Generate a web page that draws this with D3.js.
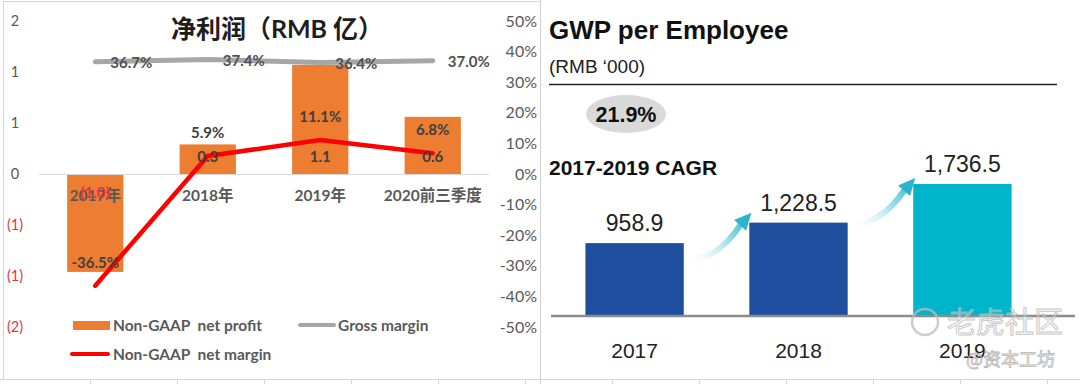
<!DOCTYPE html>
<html><head><meta charset="utf-8">
<script src="https://cdn.jsdelivr.net/npm/d3@7"></script>
<style>
html,body{margin:0;padding:0;background:#fff;}
svg{display:block;}
text{white-space:pre;}
</style></head>
<body>
<svg id="c" width="1080" height="384"></svg>
<script>
// ---------- data ----------
const categories = ["2017年", "2018年", "2019年", "2020前三季度"];
const netProfit = [-0.96, 0.29, 1.07, 0.56];
const grossMargin = [0.367, 0.374, 0.364, 0.370];
const netMargin = [-0.365, 0.059, 0.111, 0.068];
const leftTicks = [-1.5, -1, -0.5, 0, 0.5, 1, 1.5];
const rightTicks = [-0.5, -0.4, -0.3, -0.2, -0.1, 0, 0.1, 0.2, 0.3, 0.4, 0.5];
const leftTitle = "净利润（RMB 亿）";
const legendLabels = ["Non-GAAP  net profit", "Gross margin", "Non-GAAP  net margin"];

const gwpYears = ["2017", "2018", "2019"];
const gwpValues = [958.9, 1228.5, 1736.5];
const gwpCagr = "21.9%";
const gwpTitle = "GWP per Employee";
const gwpUnit = "(RMB \u2018000)";
const gwpCagrLabel = "2017-2019 CAGR";

// ---------- setup ----------
const svg = d3.select("#c");
const LF = "Lato, 'Noto Sans CJK SC', sans-serif";
const AF = "'Liberation Sans', Arial, sans-serif";
const gray = "#595959";
const redTxt = "#e8323c";

// frame / cell grid
svg.append("rect").attr("x", 3.5).attr("y", 1.5).attr("width", 537).attr("height", 378)
  .attr("fill", "#fff").attr("stroke", "#d4d4d4");
svg.append("line").attr("x1", 0).attr("x2", 1080).attr("y1", 379.5).attr("y2", 379.5).attr("stroke", "#d4d4d4");
svg.append("line").attr("x1", 540.5).attr("x2", 540.5).attr("y1", 0).attr("y2", 384).attr("stroke", "#cfcfcf");
d3.range(90, 1080, 87).forEach(x => {
  svg.append("line").attr("x1", x + 0.5).attr("x2", x + 0.5).attr("y1", 380).attr("y2", 384).attr("stroke", "#d4d4d4");
});

// ---------- left chart ----------
const x = d3.scaleBand().domain(categories).range([39, 489]).paddingInner(0.5).paddingOuter(0.25);
const yL = d3.scaleLinear().domain([-1.5, 1.5]).range([327, 21]);
const yR = d3.scaleLinear().domain([-0.5, 0.5]).range([327, 21]);
const cx = c => x(c) + x.bandwidth() / 2;

// left axis
const fmtL = v => { const r = Math.round(Math.abs(v)); return v < 0 ? `(${r})` : `${r}`; };
const gL = svg.append("g").attr("transform", "translate(22,0)")
  .call(d3.axisLeft(yL).tickValues(leftTicks).tickFormat(fmtL).tickSize(0).tickPadding(0));
gL.select(".domain").remove();
gL.selectAll("text").attr("x", -7).attr("text-anchor", "middle")
  .attr("font-family", LF).attr("font-size", 14.5)
  .attr("fill", d => d < 0 ? redTxt : gray);

// right axis
const gR = svg.append("g").attr("transform", "translate(537,0)")
  .call(d3.axisLeft(yR).tickValues(rightTicks).tickFormat(d3.format(".0%")).tickSize(0).tickPadding(0));
gR.select(".domain").remove();
gR.selectAll("text").attr("font-family", LF).attr("font-size", 16).attr("fill", gray)
  .text(d => d3.format(".0%")(d).replace("−", "-"));

// bars
svg.append("g").selectAll("rect").data(netProfit).join("rect")
  .attr("x", (d, i) => x(categories[i]))
  .attr("width", x.bandwidth())
  .attr("y", d => yL(Math.max(0, d)))
  .attr("height", d => Math.abs(yL(d) - yL(0)))
  .attr("fill", "#ed7d31");

// category axis
const gX = svg.append("g").attr("transform", `translate(0,${yL(0)})`)
  .call(d3.axisBottom(x).tickSize(0).tickPadding(0));
gX.select(".domain").attr("d", `M${x.range()[0]},0.5H${x.range()[1]}`).attr("stroke", "#d9d9d9").attr("stroke-width", 1);
gX.selectAll("text").attr("y", 22).attr("dy", "0.35em")
  .attr("font-family", LF).attr("font-size", 15.5).attr("font-weight", 700).attr("fill", gray);

// gross margin line
const lineR = vals => d3.line().x((d, i) => cx(categories[i])).y(d => yR(d))(vals);
svg.append("path").attr("d", lineR(grossMargin)).attr("fill", "none")
  .attr("stroke", "#a6a6a6").attr("stroke-width", 5).attr("stroke-linecap", "round").attr("stroke-linejoin", "round");
// net margin line
svg.append("path").attr("d", lineR(netMargin)).attr("fill", "none")
  .attr("stroke", "#ff0000").attr("stroke-width", 4.5).attr("stroke-linecap", "round").attr("stroke-linejoin", "round");

// labels
const lbl = svg.append("g").attr("font-family", LF).attr("font-size", 15).attr("font-weight", 700);
const fmt1 = d3.format(".1f");
lbl.selectAll("text.bp").data(netProfit).join("text").attr("class", "bp")
  .attr("x", (d, i) => cx(categories[i]))
  .attr("y", d => d >= 0 ? yL(0) - 17 : yL(0) + 19)
  .attr("dy", "0.35em").attr("text-anchor", "middle")
  .attr("fill", d => d < 0 ? redTxt : "#404040")
  .text(d => d < 0 ? `(${fmt1(-d)})` : fmt1(d));
lbl.selectAll("text.gm").data(grossMargin).join("text").attr("class", "gm")
  .attr("x", (d, i) => cx(categories[i]) + 15)
  .attr("y", d => yR(d) + 1).attr("dy", "0.35em")
  .attr("fill", "#505050")
  .text(d => d3.format(".1%")(d));
lbl.selectAll("text.nm").data(netMargin).join("text").attr("class", "nm")
  .attr("x", (d, i) => cx(categories[i]))
  .attr("y", d => yR(d) - 23).attr("dy", "0.35em").attr("text-anchor", "middle")
  .attr("fill", "#404040")
  .text(d => d3.format(".1%")(d).replace("−", "-"));

// title
svg.append("text").attr("x", 277).attr("y", 29).attr("dy", "0.35em").attr("text-anchor", "middle")
  .attr("font-family", LF).attr("font-size", 25).attr("font-weight", 700).attr("fill", "#1e1e1e")
  .text(leftTitle);

// legend
const lg = svg.append("g").attr("font-family", LF).attr("font-size", 15.5).attr("font-weight", 700).attr("fill", gray);
lg.append("rect").attr("x", 73).attr("y", 321).attr("width", 37).attr("height", 9).attr("fill", "#ed7d31");
lg.append("text").attr("x", 113).attr("y", 326).attr("dy", "0.35em").text(legendLabels[0]);
lg.append("line").attr("x1", 300).attr("x2", 334).attr("y1", 325).attr("y2", 325)
  .attr("stroke", "#a6a6a6").attr("stroke-width", 4).attr("stroke-linecap", "round");
lg.append("text").attr("x", 338).attr("y", 326).attr("dy", "0.35em").text(legendLabels[1]);
lg.append("line").attr("x1", 72).attr("x2", 108).attr("y1", 354).attr("y2", 354)
  .attr("stroke", "#ff0000").attr("stroke-width", 4).attr("stroke-linecap", "round");
lg.append("text").attr("x", 113).attr("y", 355).attr("dy", "0.35em").text(legendLabels[2]);

// ---------- right panel ----------
const rp = svg.append("g");
rp.append("rect").attr("x", 541).attr("y", 0).attr("width", 539).attr("height", 379).attr("fill", "#fff");
rp.append("text").attr("x", 549).attr("y", 39).attr("font-family", AF).attr("font-size", 26)
  .attr("font-weight", 700).attr("fill", "#111").text(gwpTitle);
rp.append("text").attr("x", 549).attr("y", 73).attr("font-family", AF).attr("font-size", 19)
  .attr("fill", "#222").text(gwpUnit);
rp.append("line").attr("x1", 549).attr("x2", 1057).attr("y1", 84.5).attr("y2", 84.5)
  .attr("stroke", "#222").attr("stroke-width", 1.5);
rp.append("ellipse").attr("cx", 626).attr("cy", 114).attr("rx", 40).attr("ry", 19).attr("fill", "#d9d9d9");
rp.append("text").attr("x", 626).attr("y", 114).attr("dy", "0.36em").attr("text-anchor", "middle")
  .attr("font-family", AF).attr("font-size", 21.5).attr("font-weight", 700).attr("fill", "#111").text(gwpCagr);
rp.append("text").attr("x", 549).attr("y", 175).attr("font-family", AF).attr("font-size", 21)
  .attr("font-weight", 700).attr("fill", "#111").text(gwpCagrLabel);

const xg = d3.scaleBand().domain(gwpYears).range([551, 1046]).paddingInner(0.4).paddingOuter(0.21);
const yg = d3.scaleLinear().domain([0, 2000]).range([316, 164]);
const gwpColors = ["#1f4e9e", "#1f4e9e", "#00b5cb"];

rp.selectAll("rect.gb").data(gwpValues).join("rect").attr("class", "gb")
  .attr("x", (d, i) => xg(gwpYears[i])).attr("width", xg.bandwidth())
  .attr("y", d => yg(d)).attr("height", d => yg(0) - yg(d))
  .attr("fill", (d, i) => gwpColors[i]);
rp.append("line").attr("x1", 551).attr("x2", 1075).attr("y1", yg(0)).attr("y2", yg(0))
  .attr("stroke", "#8c8c8c").attr("stroke-width", 2.5);

rp.selectAll("text.gv").data(gwpValues).join("text").attr("class", "gv")
  .attr("x", (d, i) => xg(gwpYears[i]) + xg.bandwidth() / 2)
  .attr("y", d => yg(d) - 12).attr("text-anchor", "middle")
  .attr("font-family", AF).attr("font-size", 23).attr("fill", "#222")
  .text(d => d3.format(",.1f")(d));
rp.selectAll("text.gy").data(gwpYears).join("text").attr("class", "gy")
  .attr("x", d => xg(d) + xg.bandwidth() / 2).attr("y", 358).attr("text-anchor", "middle")
  .attr("font-family", AF).attr("font-size", 21).attr("fill", "#222").text(d => d);

// arrows
const defs = svg.append("defs");
for (let i = 0; i < gwpValues.length - 1; i++) {
  const sx = xg(gwpYears[i]) + xg.bandwidth() + 3, sy = yg(gwpValues[i]) + (i === 0 ? 16 : 1);
  const tx = xg(gwpYears[i + 1]) + 2, ty = yg(gwpValues[i + 1]) - (i === 0 ? 10 : 6);
  const gid = "ag" + i;
  const grad = defs.append("linearGradient").attr("id", gid).attr("gradientUnits", "userSpaceOnUse")
    .attr("x1", sx).attr("y1", sy).attr("x2", tx).attr("y2", ty);
  grad.append("stop").attr("offset", 0).attr("stop-color", "#ffffff").attr("stop-opacity", 0.2);
  grad.append("stop").attr("offset", 0.45).attr("stop-color", "#bfe9f2");
  grad.append("stop").attr("offset", 1).attr("stop-color", "#1fb2cc");
  const ux = 0.66, uy = -0.75;
  const hl = 17, hw = 8;
  const bx = tx - hl * ux, by = ty - hl * uy;
  const px = -uy, py = ux;
  const cxp = sx + (bx - sx) * 0.55, cyp = sy + 2;
  rp.append("path")
    .attr("d", `M${sx},${sy} Q${cxp},${cyp} ${bx},${by}`)
    .attr("fill", "none").attr("stroke", `url(#${gid})`).attr("stroke-width", 6).attr("stroke-linecap", "round");
  rp.append("path")
    .attr("d", `M${tx},${ty} L${bx + hw * px},${by + hw * py} L${bx - hw * px},${by - hw * py} Z`)
    .attr("fill", "#2ab5cf");
}

// watermark
const wm = svg.append("g").attr("opacity", 0.75);
wm.append("circle").attr("cx", 925).attr("cy", 322).attr("r", 13).attr("fill", "none")
  .attr("stroke", "#bdbdbd").attr("stroke-width", 2.5);
wm.append("text").attr("x", 947).attr("y", 333).attr("font-family", "'Noto Sans CJK SC', sans-serif")
  .attr("font-size", 29).attr("fill", "rgba(255,255,255,0.55)").attr("stroke", "#b5b5b5").attr("stroke-width", 1)
  .text("老虎社区");
wm.append("text").attr("x", 966).attr("y", 366).attr("font-family", "'Noto Sans CJK SC', sans-serif")
  .attr("font-size", 18).attr("fill", "rgba(255,255,255,0.6)").attr("stroke", "#9e9e9e").attr("stroke-width", 0.8)
  .text("@资本工坊");
</script>
</body></html>
